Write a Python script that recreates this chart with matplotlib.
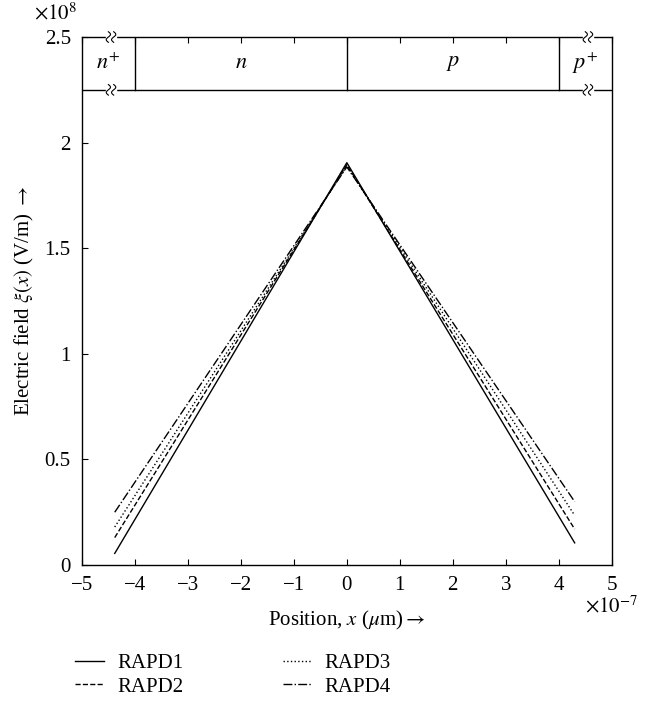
import numpy as np
import matplotlib
matplotlib.use("Agg")
import matplotlib.pyplot as plt

plt.rcParams['font.family'] = ['Liberation Serif', 'DejaVu Serif']
plt.rcParams['mathtext.fontset'] = 'stix'

# position (x 1e-7 m) of the three corner points of each field profile
pos = [-4.38, 0.0, 4.30]
rapd1 = [0.055, 1.905, 0.105]
rapd2 = [0.13, 1.895, 0.17]
rapd3 = [0.18, 1.89, 0.235]
rapd4 = [0.25, 1.885, 0.30]
names = ['RAPD1', 'RAPD2', 'RAPD3', 'RAPD4']
styles = ['-', '--', ':', '-.']

# region band on top
region_edges = [-5, -4, 0, 4, 5]
region_labels = [r'$n^{+}$', r'$n$', r'$p$', r'$p^{+}$']

fig = plt.figure(figsize=(6.55, 7.04), dpi=100)
ax = fig.add_axes([0.125, 0.1974, 0.809, 0.75])

for y, nm, ls in zip([rapd1, rapd2, rapd3, rapd4], names, styles):
    ax.plot(np.array(pos), np.array(y), color='k', lw=1.0, ls=ls, label=nm)

ax.set_xlim(-5, 5)
ax.set_ylim(0, 2.5)
ax.set_xticks(np.arange(-5, 6, 1))
ax.set_xticklabels(['\u2212%d' % -v if v < 0 else '%d' % v for v in range(-5, 6)])
ax.set_yticks([0, 0.5, 1, 1.5, 2, 2.5])
ax.set_yticklabels(['0', '0.5', '1', '1.5', '2', '2.5'])
ax.tick_params(direction='in', top=True, right=False, labelsize=15, length=4, width=0.8)
ax.tick_params(axis='x', pad=8)
ax.tick_params(axis='y', pad=8)
for s in ax.spines.values():
    s.set_linewidth(1.0)

# band
ax.axhline(2.25, color='k', lw=1.0)
for e in region_edges[1:-1]:
    ax.plot([e, e], [2.25, 2.5], color='k', lw=1.0)
for i, lab in enumerate(region_labels):
    xc = (region_edges[i] + region_edges[i + 1]) / 2
    ax.text(xc, 2.375, lab, ha='center', va='center', fontsize=16)

# break marks
t = np.linspace(-1, 1, 30)
for xb in [-4.45, 4.55]:
    for yb in [2.25, 2.5]:
        ax.fill_between([xb - 0.1, xb + 0.1], yb - 0.012, yb + 0.012, color='white', zorder=3, clip_on=False)
        for dx in [-0.05, 0.05]:
            ax.plot(xb + dx + 0.04 * np.sin(np.pi * t), yb + 0.025 * t, color='k', lw=0.8, zorder=4, clip_on=False)

ax.text(-5.9, 2.56, r'$\times 10^{8}$', fontsize=15, ha='left', va='bottom')
ax.text(5.5, -0.145, r'$\times 10^{-7}$', fontsize=15, ha='right', va='top')

ax.set_xlabel(r'Position, $x$ ($\mu$m)$\rightarrow$', fontsize=15, labelpad=10)
ax.set_ylabel(r'Electric field $\xi(x)$ (V/m) $\rightarrow$', fontsize=15, labelpad=6)

fig.legend(loc='upper left', bbox_to_anchor=(0.115, 0.072), ncol=2, frameon=False,
           fontsize=15, columnspacing=4.8, handlelength=1.4, handletextpad=0.6,
           labelspacing=0.2, borderaxespad=0, borderpad=0)

plt.savefig('out.png')
